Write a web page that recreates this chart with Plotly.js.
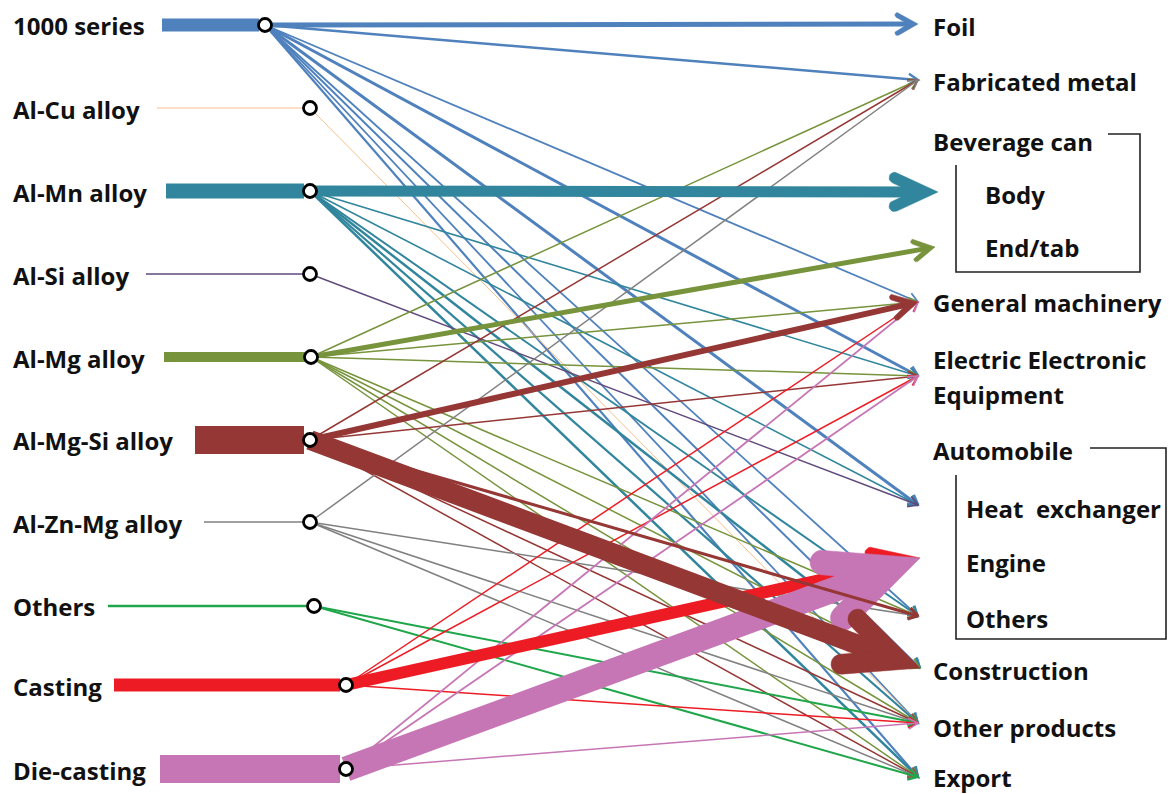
<!DOCTYPE html>
<html><head><meta charset="utf-8">
<script src="https://cdn.plot.ly/plotly-3.0.1.min.js"></script>
<style>html,body{margin:0;padding:0;background:#fff}#chart{width:1170px;height:794px}</style>
</head><body><div id="chart"></div>
<script>
// ---------------- data ----------------
const sources = ["1000 series","Al-Cu alloy","Al-Mn alloy","Al-Si alloy","Al-Mg alloy","Al-Mg-Si alloy","Al-Zn-Mg alloy","Others","Casting","Die-casting"];
const sourceTotals = [13, 1, 15, 1.5, 10, 28, 1.5, 2.5, 13, 28];
const targets = ["Foil","Fabricated metal","Body","End/tab","General machinery","Electric Electronic Equipment","Heat  exchanger","Engine","Others","Construction","Other products","Export"];
const targetGroups = ["Beverage can","Automobile"];
// flows: source index -> target index, value (drawn as line thickness)
const flowFrom  = [0,0,0,0,0,0,0,0,0,  1,  2,2,2,2,2,2,2,  3,  4,4,4,4,4,4,4,4,  5,5,5,5,5,5,  6,6,6,6,  7,7,  8,8,8,8,  9,9,9,9,  5];
const flowTo    = [0,1,4,5,6,8,9,10,11, 10, 2,5,6,8,9,10,11, 6,  1,3,4,5,8,9,10,11, 1,4,5,9,10,11, 1,8,10,11, 10,11, 4,5,7,10, 4,5,7,10, 8];
const flowValue = [5,2.5,1.8,3,3,1.8,2,1.8,2.2,  1,  11,1.6,1.6,2,2.5,2.2,2.5, 1.5, 1.5,5,1.5,1.5,1.5,1.5,1.5,1.5, 1.5,6,1.5,20,1.5,1.5, 1.5,1.5,1.5,1.5, 2,2, 1.5,1.5,12,1.5, 1.8,1.8,25,1.5, 3];

// ---------------- layout positions / styles ----------------
const srcColor = ["#4f81bd","#f9be8c","#31859c","#604a7b","#77933c","#953735","#808080","#1fa64a","#ed1c24","#c776b5"];
const srcY     = [25,108,191,274,357,440,522,606,685,769];
const srcNodeX = [265,310,310,310,311,310,310,314,346,346];
const srcBarX0 = [162,157,166,146,164,195,204,108,114,160];
const srcLabelY= [25,109,192,275,358,440,523,606,686,770];
const tgtTipX  = [918,918,938,935,918,918,918,920,918,920,918,918];
const tgtTipY  = [24,80,192,247,302,376,505,558,616,668,723,777];
const tgtLabelX= [931,931,983,983,931,931,964,964,964,931,931,931];
const tgtLabelY= [26,81,194,247,302,359,508,562,618,670,727,777];
const groupLabelX = [931,931], groupLabelY = [141,450];

const traces = [];
function flowTraces(i){
  const s = flowFrom[i], t = flowTo[i], w = flowValue[i], col = srcColor[s];
  const x0 = srcNodeX[s], y0 = srcY[s], x1 = tgtTipX[t], y1 = tgtTipY[t];
  const dx = x1-x0, dy = y1-y0, len = Math.hypot(dx,dy);
  const ux = dx/len, uy = dy/len;
  const thick = w>=4;
  const h = (w>=8?25:30)*Math.PI/180;
  const c=Math.cos(h), sn=Math.sin(h);
  const rx=-ux, ry=-uy;
  const d1 = [rx*c - ry*sn, rx*sn + ry*c];
  const d2 = [rx*c + ry*sn, -rx*sn + ry*c];
  if(!thick){
    const L = 11;
    return [{type:'scatter',mode:'lines',hoverinfo:'skip',connectgaps:false,
      x:[x0,x1,null,x1+L*d1[0],x1,x1+L*d2[0]],
      y:[y0,y1,null,y1+L*d1[1],y1,y1+L*d2[1]],
      line:{color:col,width:w}}];
  }
  const r = w/2;
  const back = r/sn;
  const vx = x1-ux*back, vy = y1-uy*back;
  const L = 2.6*w+5;
  const ix = x1-ux*2*back, iy = y1-uy*2*back;
  function outward(d){
    let n=[-d[1], d[0]];
    const ax=d[0]+ux, ay=d[1]+uy;
    if(n[0]*ax+n[1]*ay<0) n=[-n[0],-n[1]];
    return n;
  }
  const n1=outward(d1), n2=outward(d2);
  const A1=[vx+L*d1[0], vy+L*d1[1]], A2=[vx+L*d2[0], vy+L*d2[1]];
  const px=[x1], py=[y1];
  const N=10;
  for(let k=0;k<=N;k++){ const f=Math.PI*k/N; px.push(A1[0]+r*(Math.cos(f)*n1[0]+Math.sin(f)*d1[0])); py.push(A1[1]+r*(Math.cos(f)*n1[1]+Math.sin(f)*d1[1])); }
  px.push(ix); py.push(iy);
  for(let k=N;k>=0;k--){ const f=Math.PI*k/N; px.push(A2[0]+r*(Math.cos(f)*n2[0]+Math.sin(f)*d2[0])); py.push(A2[1]+r*(Math.cos(f)*n2[1]+Math.sin(f)*d2[1])); }
  px.push(x1); py.push(y1);
  return [
    {type:'scatter',mode:'lines',hoverinfo:'skip',x:[x0,vx],y:[y0,vy],line:{color:col,width:w}},
    {type:'scatter',mode:'lines',hoverinfo:'skip',x:px,y:py,fill:'toself',fillcolor:col,line:{color:col,width:0.5}}
  ];
}
// order: thin flows, then thick ones (casting/die-casting before others), last flow on top
const idx = flowValue.map((v,i)=>i);
const lastIdx = flowValue.length-1;
const thin = idx.filter(i=>flowValue[i]<4 && i!==lastIdx);
const thick = idx.filter(i=>flowValue[i]>=4).sort((a,b)=>{
  const pa = flowFrom[a]>=8?0:1, pb = flowFrom[b]>=8?0:1;
  if(pa!==pb) return pa-pb;
  return flowValue[a]-flowValue[b];
});
thin.concat(thick).concat([lastIdx]).forEach(i=>flowTraces(i).forEach(tr=>traces.push(tr)));

// source bars
sources.forEach((name,s)=>{
  traces.push({type:'scatter',mode:'lines',hoverinfo:'skip',
    x:[srcBarX0[s], srcNodeX[s]-6], y:[srcY[s], srcY[s]],
    line:{color:srcColor[s], width:sourceTotals[s]}});
});
// nodes
traces.push({type:'scatter',mode:'markers',hoverinfo:'skip',
  x:srcNodeX, y:srcY,
  marker:{symbol:'circle',size:13,color:'#ffffff',line:{color:'#000000',width:2.8}}});

const font = {family:'"Open Sans", Lato, sans-serif', size:24, color:'#111111', weight:'bold'};
const annotations = [];
sources.forEach((name,s)=>annotations.push({x:11,y:srcLabelY[s],xref:'x',yref:'y',text:name,showarrow:false,xanchor:'left',yanchor:'middle',font:font}));
targets.forEach((name,t)=>{
  if(name==="Electric Electronic Equipment"){
    annotations.push({x:tgtLabelX[t],y:tgtLabelY[t],xref:'x',yref:'y',text:"Electric Electronic",showarrow:false,xanchor:'left',yanchor:'middle',font:font});
    annotations.push({x:tgtLabelX[t],y:tgtLabelY[t]+35,xref:'x',yref:'y',text:"Equipment",showarrow:false,xanchor:'left',yanchor:'middle',font:font});
  } else {
    annotations.push({x:tgtLabelX[t],y:tgtLabelY[t],xref:'x',yref:'y',text:name.replace("  ","&nbsp; "),showarrow:false,xanchor:'left',yanchor:'middle',font:font});
  }
});
targetGroups.forEach((name,g)=>annotations.push({x:groupLabelX[g],y:groupLabelY[g],xref:'x',yref:'y',text:name,showarrow:false,xanchor:'left',yanchor:'middle',font:font}));

const shapes = [
  {type:'path',xref:'x',yref:'y',path:'M1108,134 L1140,134 L1140,272 L956,272 L956,165',line:{color:'#222',width:1.6}},
  {type:'path',xref:'x',yref:'y',path:'M1090,448 L1166,448 L1166,639 L956,639 L956,475',line:{color:'#222',width:1.6}}
];

Plotly.newPlot('chart', traces, {
  width:1170, height:794, margin:{l:0,r:0,t:0,b:0},
  paper_bgcolor:'#ffffff', plot_bgcolor:'#ffffff', showlegend:false,
  xaxis:{range:[0,1170],visible:false,fixedrange:true},
  yaxis:{range:[794,0],visible:false,fixedrange:true},
  annotations:annotations, shapes:shapes
}, {staticPlot:true, displayModeBar:false});
</script>
</body></html>
